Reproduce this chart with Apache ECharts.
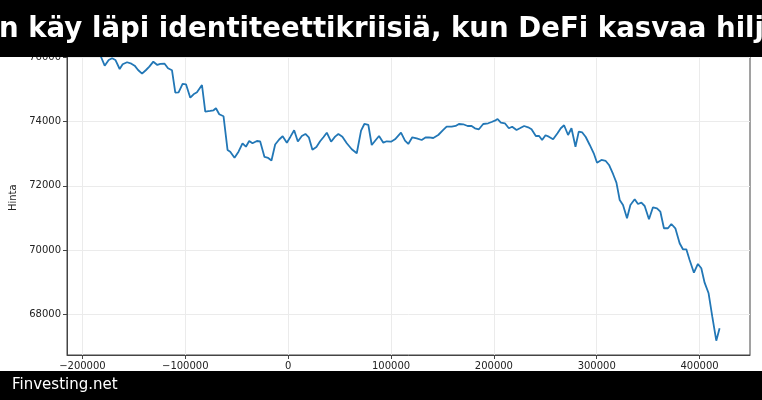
<!DOCTYPE html>
<html>
<head>
<meta charset="utf-8">
<script src="https://cdn.jsdelivr.net/npm/echarts@6/dist/echarts.min.js"></script>
<style>html,body{margin:0;padding:0;background:#fff}#c{width:762px;height:400px}</style>
</head>
<body>
<div id="c"></div>
<script>
const titleText = "Bitcoin käy läpi identiteettikriisiä, kun DeFi kasvaa hiljaisesti";
const sourceText = "Finvesting.net";
const yAxisName = "Hinta";
const xTicks = [-200000, -100000, 0, 100000, 200000, 300000, 400000];
const yTicks = [68000, 70000, 72000, 74000, 76000];
const xs = [-182500,-178350,-174470,-171170,-167970,-163790,-160880,-156600,-152430,-149230,
-145920,-142040,-138160,-134960,-131070,-127190,-124280,-120100,-116800,-112920,
-109710,-106510,-102620,-99320,-95150,-91940,-88640,-83790,-80580,-75730,
-72530,-70200,-66990,-62820,-58930,-56310,-52140,-48250,-44370,-41070,
-37870,-34660,-30390,-27190,-23010,-19420,-16210,-12620,-8740,-5340,
-1260,2230,5830,9420,13300,16800,20100,23590,27480,31070,
34270,37570,41750,45630,48840,52720,56990,61850,66700,70880,
74080,77960,81260,85150,88350,92530,95830,100000,103890,109710,
113600,116800,120680,124960,129810,133500,136900,141070,145920,150780,
154080,158940,162820,166020,170200,174470,178350,181560,185440,189620,
194470,197770,200980,203600,206800,210690,214570,217770,222050,225250,
229420,233310,236610,240780,243990,246900,250200,253400,257580,261850,
265060,268260,272140,275440,279330,282530,285930,289330,293210,297100,
300300,304570,308750,311950,315840,319140,322340,325540,329430,332730,
336900,340110,343410,346610,350790,354670,358560,361860,365350,369240,
372540,376420,380590,383800,387100,390300,394480,398360,401660,404870,
408750,412340,416220,419430];
const ys = [76050,75734,75911,75964,75911,75631,75777,75840,75796,75734,
75600,75485,75600,75703,75858,75756,75787,75796,75653,75591,
74895,74908,75166,75156,74740,74846,74908,75134,74305,74327,
74349,74411,74224,74162,73116,73063,72876,73063,73324,73218,
73395,73324,73395,73380,72898,72867,72789,73286,73442,73541,
73342,73529,73727,73380,73550,73613,73510,73125,73209,73386,
73510,73653,73373,73529,73613,73529,73324,73137,73013,73715,
73923,73892,73271,73426,73550,73342,73386,73373,73448,73653,
73404,73302,73510,73479,73426,73504,73504,73488,73581,73737,
73839,73839,73861,73923,73914,73861,73861,73790,73759,73923,
73945,73985,74026,74078,73964,73945,73790,73839,73737,73790,
73861,73821,73759,73550,73550,73426,73572,73529,73448,73634,
73790,73883,73581,73790,73218,73684,73659,73519,73271,73013,
72721,72805,72774,72650,72370,72100,71563,71407,70994,71407,
71584,71438,71479,71376,70963,71336,71305,71199,70684,70684,
70817,70684,70218,70031,70031,69699,69305,69575,69441,68994,
68665,67938,67192,67578];

const W = 762;
const fontFam = "'DejaVu Sans', sans-serif";
const titleSize = 27.6;
const mc = document.createElement('canvas').getContext('2d');
mc.font = 'bold ' + titleSize + 'px ' + fontFam;
const hiddenPrefix = mc.measureText(titleText.slice(0, 6)).width;

const fmt = v => (v < 0 ? '\u2212' + Math.abs(v) : String(v));
const chart = echarts.init(document.getElementById('c'), null, {renderer: 'canvas'});
chart.setOption({
  animation: false,
  backgroundColor: '#ffffff',
  grid: {left: 67, right: 12, top: 40.5, bottom: 45, show: true, borderColor: '#444', borderWidth: 1, backgroundColor: 'transparent'},
  xAxis: {
    type: 'value', min: -215000, max: 449000,
    axisLine: {show: true, onZero: false, lineStyle: {color: '#444', width: 1}},
    axisTick: {show: true, length: 4, lineStyle: {color: '#444'}, customValues: xTicks},
    axisLabel: {fontSize: 10, color: '#222', fontFamily: fontFam, margin: 6, formatter: fmt, customValues: xTicks},
    splitLine: {show: true, lineStyle: {color: '#ebebeb', width: 1}}
  },
  yAxis: {
    type: 'value', min: 66748, max: 76516,
    name: yAxisName, nameLocation: 'middle', nameGap: 44,
    nameTextStyle: {fontSize: 10, color: '#222', fontFamily: fontFam},
    axisLine: {show: true, onZero: false, lineStyle: {color: '#444', width: 1}},
    axisTick: {show: true, length: 4, lineStyle: {color: '#444'}, customValues: yTicks},
    axisLabel: {fontSize: 10, color: '#222', fontFamily: fontFam, margin: 6, formatter: fmt, customValues: yTicks},
    splitLine: {show: true, lineStyle: {color: '#ebebeb', width: 1}}
  },
  series: [{
    type: 'line', data: xs.map((x, i) => [x, ys[i]]),
    showSymbol: false, symbol: 'none',
    lineStyle: {color: '#2277b6', width: 1.8}, itemStyle: {color: '#2277b6'}
  }],
  graphic: [
    {type: 'rect', z: 100, shape: {x: 0, y: 0, width: W, height: 57}, style: {fill: '#000'}},
    {type: 'text', z: 101, x: -hiddenPrefix - 1, y: 30,
     style: {text: titleText, fill: '#fff', font: 'bold ' + titleSize + 'px ' + fontFam, textAlign: 'left', textVerticalAlign: 'middle'}},
    {type: 'rect', z: 100, shape: {x: 0, y: 371, width: W, height: 29}, style: {fill: '#000'}},
    {type: 'text', z: 101, x: 12, y: 385,
     style: {text: sourceText, fill: '#fff', font: '15px ' + fontFam, textAlign: 'left', textVerticalAlign: 'middle'}}
  ]
});
</script>
</body>
</html>
